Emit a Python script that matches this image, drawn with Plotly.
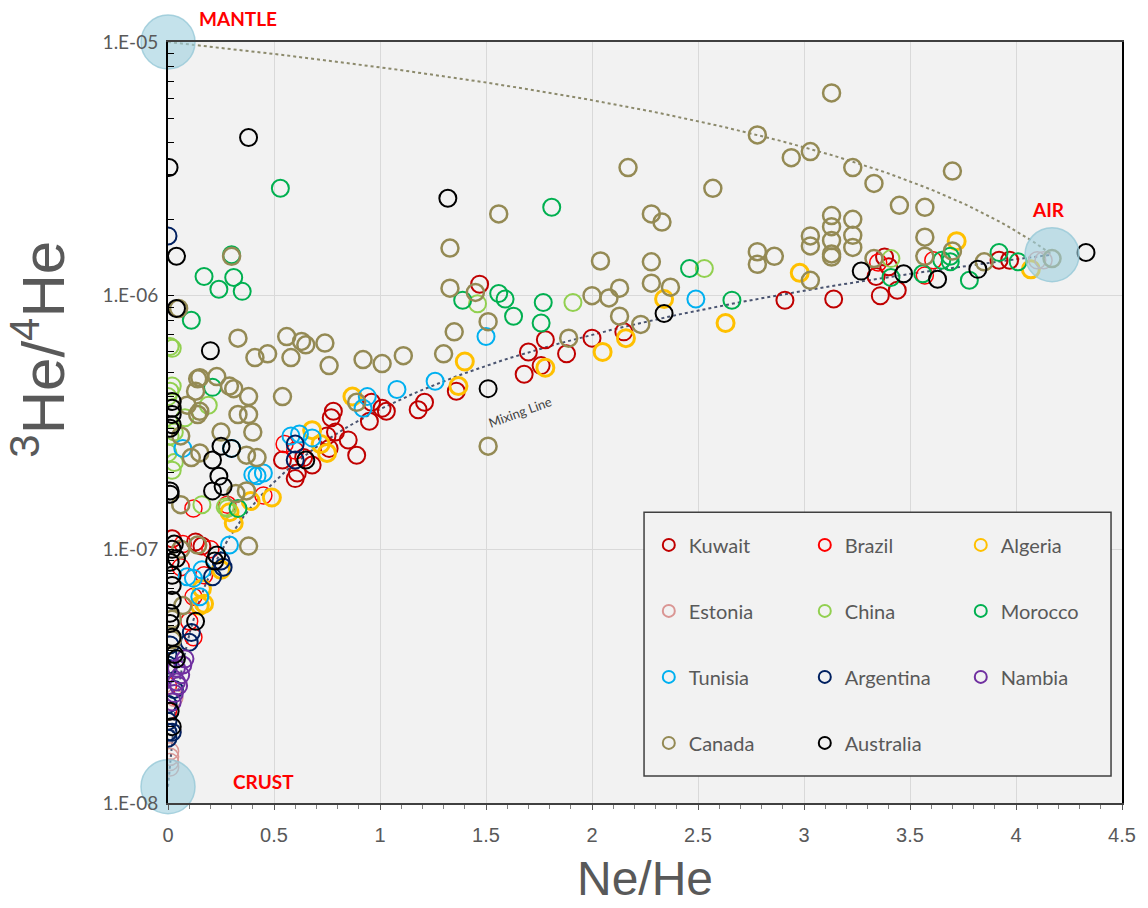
import plotly.graph_objects as go

# ---------------- data ----------------
kuwait_x = [1.47, 1.36, 1.18, 1.21, 0.96, 1.01, 1.03, 0.95, 0.54, 0.60, 0.61, 0.68, 0.75, 0.77, 0.78, 0.79, 0.85, 0.89, 0.76, 0.64,
            1.78, 1.70, 1.68, 1.76, 1.88, 2.00, 2.15, 2.91, 3.14, 3.38, 3.34, 3.36, 3.44, 3.40, 3.92, 3.97, 0.02, 0.13, 0.16]
kuwait_y = [1.11e-6, 4.2e-7, 3.55e-7, 3.8e-7, 3.8e-7, 3.6e-7, 3.5e-7, 3.2e-7, 2.25e-7, 1.9e-7, 2.0e-7, 2.15e-7, 2.8e-7, 3.3e-7, 3.5e-7, 2.9e-7, 2.7e-7, 2.35e-7, 2.5e-7, 2.3e-7,
            6.7e-7, 6.0e-7, 4.9e-7, 5.3e-7, 5.9e-7, 6.8e-7, 7.2e-7, 9.6e-7, 9.7e-7, 1.42e-6, 1.19e-6, 1.0e-6, 1.05e-6, 1.3e-6, 1.38e-6, 1.38e-6, 1.1e-7, 1.07e-7, 1.03e-7]

brazil_x = [0.55, 0.12, 0.45, 0.60, 0.17, 0.12, 0.10, 0.12, 0.00, 0.00, 0.07, 0.20, 0.28, 3.35, 3.61, 3.57, 0.06]
brazil_y = [2.6e-7, 1.45e-7, 1.63e-7, 2.45e-7, 7.9e-8, 6.5e-8, 5.2e-8, 4.5e-8, 2.9e-8, 2.3e-8, 1.05e-7, 1.0e-7, 1.5e-7, 1.35e-6, 1.38e-6, 1.2e-6, 8.5e-8]

algeria_x = [0.87, 0.68, 0.75, 0.72, 0.39, 0.49, 0.31, 0.25, 0.16, 0.15, 0.17, 1.37, 1.40, 1.78, 2.05, 2.16, 2.34, 2.63, 2.98, 3.72, 4.07, 0.29]
algeria_y = [4.0e-7, 2.95e-7, 2.4e-7, 2.6e-7, 1.55e-7, 1.6e-7, 1.27e-7, 8.3e-8, 7.0e-8, 6.0e-8, 6.1e-8, 4.4e-7, 5.5e-7, 5.2e-7, 6.0e-7, 6.8e-7, 9.7e-7, 7.8e-7, 1.23e-6, 1.64e-6, 1.27e-6, 1.4e-7]

estonia_x = [0.01, 0.01, 0.01, 0.01, 0.02, 0.00, 0.03, 4.10, 4.13]
estonia_y = [1.6e-8, 1.52e-8, 1.45e-8, 1.38e-8, 1.9e-8, 2.1e-8, 2.6e-8, 1.38e-6, 1.38e-6]

china_x = [0.01, 0.02, 0.02, 0.00, 0.01, 0.19, 0.03, 0.01, 0.00, 0.03, 0.02, 0.16, 0.28, 0.08, 1.46, 1.91, 2.53, 3.41, 0.27]
china_y = [6.3e-7, 6.2e-7, 4.4e-7, 4.0e-7, 4.2e-7, 3.7e-7, 2.9e-7, 2.8e-7, 2.4e-7, 2.2e-7, 2.05e-7, 1.5e-7, 1.45e-7, 3.3e-7, 9.3e-7, 9.4e-7, 1.28e-6, 1.4e-6, 1.47e-7]

morocco_x = [0.53, 0.30, 0.17, 0.24, 0.31, 0.35, 0.11, 0.21, 0.33, 1.39, 1.56, 1.59, 1.63, 1.77, 1.76, 1.81, 2.46, 2.66,
             3.41, 3.65, 3.69, 3.69, 3.78, 3.92, 4.01, 3.56]
morocco_y = [2.65e-6, 1.45e-6, 1.19e-6, 1.06e-6, 1.18e-6, 1.04e-6, 8.0e-7, 4.35e-7, 1.45e-7, 9.6e-7, 1.02e-6, 9.7e-7, 8.3e-7, 9.4e-7, 7.8e-7, 2.23e-6, 1.28e-6, 9.6e-7,
             1.18e-6, 1.38e-6, 1.36e-6, 1.43e-6, 1.15e-6, 1.48e-6, 1.36e-6, 1.22e-6]

tunisia_x = [0.07, 0.30, 0.40, 0.45, 0.42, 0.29, 0.58, 0.62, 0.68, 0.94, 0.92, 1.08, 1.26, 1.50, 2.49, 0.12, 0.15, 0.16, 0.09]
tunisia_y = [2.5e-7, 2.5e-7, 1.97e-7, 2.0e-7, 1.95e-7, 1.04e-7, 2.8e-7, 2.85e-7, 2.75e-7, 4.0e-7, 3.6e-7, 4.27e-7, 4.6e-7, 6.9e-7, 9.7e-7, 7.7e-8, 6.5e-8, 8.3e-8, 7.8e-8]

argentina_x = [0.00, 0.60, 0.60, 0.21, 0.25, 0.11, 0.10, 0.00, 0.00, 0.00, 0.00, 0.00, 0.00, 0.00, 0.02, 0.01, 0.03, 0.26]
argentina_y = [1.72e-6, 2.6e-7, 2.25e-7, 7.8e-8, 9.0e-8, 4.7e-8, 4.3e-8, 3.85e-8, 3.5e-8, 3.4e-8, 2.45e-8, 2.1e-8, 1.9e-8, 1.8e-8, 1.9e-8, 4.2e-8, 2.8e-8, 8.5e-8]

nambia_x = [0.07, 0.06, 0.04, 0.03, 0.02, 0.04, 0.08, 0.05]
nambia_y = [3.5e-8, 3.2e-8, 3.0e-8, 2.7e-8, 2.5e-8, 3.4e-8, 3.7e-8, 2.9e-8]

canada_x = [0.30, 1.33, 1.33, 1.56, 0.05, 0.33, 0.41, 0.47, 0.56, 0.58, 0.63, 0.65, 0.74, 0.76, 0.92, 1.01, 1.11, 0.54,
            0.15, 0.23, 0.13, 0.29, 0.31, 0.38, 0.15, 0.33, 0.38, 0.14, 0.09, 0.14, 0.40, 0.25, 0.06, 0.11, 0.15, 0.37,
            0.42, 0.06, 0.32, 0.37, 0.38, 0.89, 0.06, 0.14, 0.02, 0.02, 0.07,
            1.51, 1.30, 1.35, 1.51, 1.45, 1.89, 2.00, 2.08, 2.13, 2.13, 2.23, 2.04, 2.28, 2.28, 2.37, 2.17, 2.57,
            2.28, 2.33, 2.94, 3.03, 2.78, 2.78, 2.86, 3.03, 3.03, 3.03, 3.13, 3.23, 3.33, 3.45, 3.70, 3.57, 3.13,
            3.13, 3.13, 3.13, 3.13, 3.23, 3.23, 3.23, 3.57, 3.57, 3.70, 3.33, 3.85, 4.17, 2.78]
canada_y = [1.43e-6, 1.54e-6, 1.07e-6, 2.1e-6, 8.9e-7, 6.8e-7, 5.7e-7, 5.9e-7, 6.9e-7, 5.7e-7, 6.6e-7, 6.4e-7, 6.5e-7, 5.3e-7, 5.6e-7, 5.4e-7, 5.8e-7, 4.0e-7,
            4.75e-7, 4.8e-7, 4.2e-7, 4.4e-7, 4.3e-7, 4.0e-7, 3.5e-7, 3.4e-7, 3.4e-7, 4.7e-7, 3.7e-7, 3.4e-7, 2.9e-7, 2.9e-7, 2.8e-7, 2.3e-7, 2.4e-7, 2.35e-7,
            2.3e-7, 1.5e-7, 1.66e-7, 1.7e-7, 1.03e-7, 3.8e-7, 1.0e-7, 1.04e-7, 5.3e-8, 4.4e-8, 6.0e-8,
            2.55e-7, 5.9e-7, 7.2e-7, 7.9e-7, 1.03e-6, 6.8e-7, 1.0e-6, 9.8e-7, 1.07e-6, 8.3e-7, 7.7e-7, 1.37e-6, 1.36e-6, 1.12e-6, 1.08e-6, 3.2e-6, 2.65e-6,
            2.1e-6, 1.95e-6, 3.5e-6, 3.7e-6, 1.49e-6, 1.33e-6, 1.43e-6, 1.72e-6, 1.57e-6, 1.15e-6, 6.3e-6, 3.2e-6, 2.77e-6, 2.27e-6, 3.1e-6, 2.23e-6, 2.07e-6,
            1.87e-6, 1.65e-6, 1.46e-6, 1.42e-6, 2.0e-6, 1.73e-6, 1.55e-6, 1.7e-6, 1.43e-6, 1.5e-6, 1.4e-6, 1.36e-6, 1.4e-6, 4.3e-6]

australia_x = [0.38, 0.005, 1.32, 0.04, 0.04, 0.20, 0.02, 0.02, 0.02, 0.02, 0.01, 0.25, 0.30, 0.21, 0.24, 0.26, 0.21, 0.01, 0.01,
               1.51, 2.34, 3.27, 3.47, 3.63, 3.82, 4.33, 0.65, 0.01, 0.02, 0.02, 0.02, 0.01, 0.04, 0.23, 0.22, 0.01, 0.02,
               0.03, 0.04, 0.01, 0.02, 0.13, 0.03, 0.02]
australia_y = [4.2e-6, 3.2e-6, 2.42e-6, 1.43e-6, 8.9e-7, 6.07e-7, 3.83e-7, 3.6e-7, 3.4e-7, 3.1e-7, 3.0e-7, 2.55e-7, 2.5e-7, 2.25e-7, 1.94e-7, 1.77e-7, 1.7e-7, 1.7e-7, 1.65e-7,
               4.3e-7, 8.5e-7, 1.25e-6, 1.22e-6, 1.16e-6, 1.27e-6, 1.48e-6, 2.25e-7, 8.9e-8, 7.9e-8, 7.2e-8, 6.3e-8, 5.6e-8, 9.2e-8, 9.5e-8, 9.0e-8, 5.1e-8, 4.5e-8,
               3.85e-8, 3.7e-8, 2.3e-8, 2.0e-8, 5.2e-8, 1.05e-7, 1.0e-7]

# end members
end_names = ["MANTLE", "AIR", "CRUST"]
end_x = [0.0, 4.17, 0.0]
end_y = [1.0e-5, 1.45e-6, 1.16e-8]

y_tickvals = [1e-8, 1e-7, 1e-6, 1e-5]
y_ticktext = ["1.E-08", "1.E-07", "1.E-06", "1.E-05"]

series = [
    ("Kuwait", kuwait_x, kuwait_y, "#C00000", 2, "legend"),
    ("Brazil", brazil_x, brazil_y, "#FF0000", 1.5, "legend2"),
    ("Algeria", algeria_x, algeria_y, "#FFC000", 3, "legend3"),
    ("Estonia", estonia_x, estonia_y, "#DA9694", 1.5, "legend"),
    ("China", china_x, china_y, "#92D050", 2, "legend2"),
    ("Morocco", morocco_x, morocco_y, "#00B050", 2, "legend3"),
    ("Tunisia", tunisia_x, tunisia_y, "#00B0F0", 2, "legend"),
    ("Argentina", argentina_x, argentina_y, "#002060", 2, "legend2"),
    ("Nambia", nambia_x, nambia_y, "#7030A0", 2, "legend3"),
    ("Canada", canada_x, canada_y, "#948A54", 2.5, "legend"),
    ("Australia", australia_x, australia_y, "#000000", 2, "legend2"),
]

fig = go.Figure()

# mixing lines (linear mixing between end members)
n = 120
def mix(a, b):
    xs = [end_x[a] + (end_x[b] - end_x[a]) * i / (n - 1) for i in range(n)]
    ys = [end_y[a] + (end_y[b] - end_y[a]) * i / (n - 1) for i in range(n)]
    return xs, ys

mx, my = mix(0, 1)
fig.add_trace(go.Scatter(x=mx, y=my, mode="lines", showlegend=False, hoverinfo="skip",
                         line=dict(color="#8C8A6C", width=2, dash="dot")))
cx, cy = mix(2, 1)
fig.add_trace(go.Scatter(x=cx, y=cy, mode="lines", showlegend=False, hoverinfo="skip",
                         line=dict(color="#4A5470", width=2, dash="dot")))

for name, xs, ys, col, lw, leg in series:
    fig.add_trace(go.Scatter(
        x=xs, y=ys, mode="markers", name=name, legend=leg, legendgroup=name,
        marker=dict(symbol="circle-open", size=17, color=col, line=dict(width=lw, color=col)),
    ))

fig.add_trace(go.Scatter(
    x=end_x, y=end_y, mode="markers", showlegend=False, cliponaxis=False, hoverinfo="skip",
    marker=dict(symbol="circle", size=54, color="rgba(160,208,222,0.62)",
                line=dict(width=1.5, color="rgba(150,200,215,0.8)")),
))

legend_common = dict(
    bgcolor="rgba(0,0,0,0)", borderwidth=0, tracegroupgap=37,
    font=dict(family="Lato, Calibri, sans-serif", size=20, color="#595959"),
    itemsizing="constant", xanchor="left", yanchor="top", y=0.3648,
)

label_font = dict(family="Lato, Calibri, sans-serif", size=19, color="#FF0000")

fig.update_layout(
    width=1148, height=908,
    margin=dict(l=168, r=20, t=42, b=104),
    paper_bgcolor="white", plot_bgcolor="#F2F2F2",
    font=dict(family="Lato, Calibri, sans-serif", color="#595959"),
    showlegend=True,
    legend=dict(x=0.504, **legend_common),
    legend2=dict(x=0.6675, **legend_common),
    legend3=dict(x=0.831, **legend_common),
    xaxis=dict(
        range=[0, 4.5], dtick=0.5, tick0=0, showgrid=True, gridcolor="#D9D9D9", gridwidth=1,
        zeroline=False, showline=True, linecolor="#404040", linewidth=2, mirror=True,
        ticks="outside", ticklen=5, tickcolor="#595959", ticklabelstandoff=8,
        minor=dict(dtick=0.1, ticks="outside", ticklen=4, tickcolor="#808080", showgrid=False),
        tickfont=dict(family="Liberation Sans Narrow, Arial Narrow, sans-serif", size=20, color="#595959"),
        title=dict(text="Ne/He", font=dict(family="Liberation Sans Narrow, Arial Narrow, sans-serif", size=48, color="#595959"),
                   standoff=16),
    ),
    yaxis=dict(
        type="log", range=[-8, -5], tickmode="array", tickvals=y_tickvals, ticktext=y_ticktext,
        showgrid=True, gridcolor="#D9D9D9", gridwidth=1, zeroline=False,
        showline=True, linecolor="black", linewidth=2, mirror=True,
        ticks="inside", ticklen=6, tickcolor="black", ticklabelstandoff=4,
        minor=dict(tickmode="array",
                   tickvals=[m * 10.0 ** e for e in (-8, -7, -6) for m in range(2, 10)],
                   ticks="inside", ticklen=6, tickcolor="black", showgrid=False),
        tickfont=dict(family="Lato, Calibri, sans-serif", size=19, color="#595959"),
    ),
    shapes=[dict(type="rect", xref="paper", yref="paper", x0=0.499, x1=0.9885, y0=0.0354, y1=0.3819,
                 line=dict(color="#404040", width=1.5), fillcolor="#F2F2F2", layer="above")],
    annotations=[
        dict(text="<sup>3</sup>He/<sup>4</sup>He", xref="paper", yref="paper", x=-0.135, y=0.596,
             xanchor="center", yanchor="middle", showarrow=False, textangle=-90,
             font=dict(family="Liberation Sans Narrow, Arial Narrow, sans-serif", size=60, color="#595959")),
        dict(text="<b>MANTLE</b>", xref="paper", yref="paper", x=0.0729, y=1.0315, xanchor="center", yanchor="middle",
             showarrow=False, font=label_font),
        dict(text="<b>AIR</b>", xref="paper", yref="paper", x=0.923, y=0.7795, xanchor="center", yanchor="middle",
             showarrow=False, font=label_font),
        dict(text="<b>CRUST</b>", xref="paper", yref="paper", x=0.100, y=0.0289, xanchor="center", yanchor="middle",
             showarrow=False, font=label_font),
        dict(text="Mixing Line", xref="paper", yref="paper", x=0.369, y=0.5144, xanchor="center", yanchor="middle",
             showarrow=False, textangle=-20,
             font=dict(family="Lato, Calibri, sans-serif", size=13, color="#404040")),
    ],
)

fig.write_html("out.html")
